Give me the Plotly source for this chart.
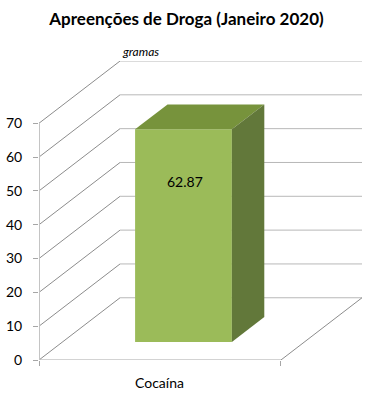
import plotly.graph_objects as go

# ---- data ----
title = "Apreenções de Droga (Janeiro 2020)"
categories = ["Cocaína"]
values = [62.87]
y_ticks = [0, 10, 20, 30, 40, 50, 60, 70]
y_unit = "gramas"

# ---- pseudo-3D projection settings (style) ----
DX = 0.335   # depth offset in x-axis units
DY = 18.4    # depth offset in y-axis units
T0, T1 = 0.29, 0.69  # bar front/back depth fractions
BAR_W = 0.4
FONT = "Lato"

ymax = y_ticks[-1]
n = len(categories)


def P(x, v, t):
    return (x + t * DX, v + t * DY)


def seg(a, b, color, width=1):
    return dict(type="line", xref="x", yref="y", x0=a[0], y0=a[1], x1=b[0], y1=b[1],
                line=dict(color=color, width=width), layer="above")


def poly(pts, color):
    d = "M " + " L ".join(f"{x},{y}" for x, y in pts) + " Z"
    return dict(type="path", xref="x", yref="y", path=d, fillcolor=color,
                line=dict(width=0), layer="above")


grid_col = "#b8b8b8"
diag_col = "#8c8c8c"
shapes = []
for v in y_ticks:
    shapes.append(seg(P(0, v, 0), P(0, v, 1), diag_col))
    shapes.append(seg(P(0, v, 1), P(n, v, 1), grid_col))
# floor edges
shapes.append(seg(P(n, 0, 0), P(n, 0, 1), diag_col))
shapes.append(seg(P(0, 0, 0), P(n, 0, 0), "#a6a6a6"))
# vertical axis line
shapes.append(seg(P(0, 0, 0), P(0, ymax, 0), "#c4c4c4", 2))

annotations = []
for i, (cat, val) in enumerate(zip(categories, values)):
    xc = i + 0.5
    xl, xr = xc - BAR_W / 2, xc + BAR_W / 2
    shapes.append(poly([P(xl, 0, T0), P(xr, 0, T0), P(xr, val, T0), P(xl, val, T0)], "#9bbb59"))
    shapes.append(poly([P(xl, val, T0), P(xr, val, T0), P(xr, val, T1), P(xl, val, T1)], "#77933c"))
    shapes.append(poly([P(xr, 0, T0), P(xr, 0, T1), P(xr, val, T1), P(xr, val, T0)], "#62783a"))
    lx, ly = P(xc, val, T0)
    annotations.append(dict(x=lx, y=ly, xref="x", yref="y", text=f"{val:.2f}", showarrow=False,
                            yshift=-52, xshift=2,
                            font=dict(family=FONT, size=14, color="#000000")))
    annotations.append(dict(x=xc, y=0, xref="x", yref="y", text=cat, showarrow=False,
                            yanchor="top", yshift=-12,
                            font=dict(family=FONT, size=14, color="#000000")))

ux, uy = P(0, ymax, 1)
annotations.append(dict(x=ux, y=uy, xref="x", yref="y", text=f"<i>{y_unit}</i>", showarrow=False,
                        xanchor="left", yanchor="bottom", yshift=0,
                        font=dict(family=FONT, size=12, color="#000000")))

fig = go.Figure(go.Scatter(x=[0], y=[0], mode="markers", marker=dict(opacity=0),
                           hoverinfo="skip", showlegend=False))

fig.update_layout(
    width=378, height=409,
    paper_bgcolor="white", plot_bgcolor="white",
    margin=dict(l=39, r=16, t=61, b=49, autoexpand=False),
    title=dict(text=f"<b>{title}</b>", x=186.5 / 378, xref="container", xanchor="center",
               y=1 - 19 / 409, yref="container", yanchor="middle",
               font=dict(family=FONT, size=17, color="#000000"), automargin=False),
    xaxis=dict(range=[0, n + DX], showgrid=False, zeroline=False, showline=False,
               tickvals=[0, n], ticks="outside", ticklen=5, tickcolor="#a6a6a6",
               showticklabels=False, fixedrange=True, automargin=False),
    yaxis=dict(range=[0, ymax + DY], showgrid=False, zeroline=False, showline=False,
               tickvals=y_ticks, ticks="outside", ticklen=5, tickcolor="#a6a6a6",
               ticklabelstandoff=8, automargin=False,
               tickfont=dict(family=FONT, size=14, color="#000000"), fixedrange=True),
    shapes=shapes,
    annotations=annotations,
    showlegend=False,
)

# remove the default page margin so the figure sits at the window's top-left corner
fig.write_html("out.html", config={"displayModeBar": False},
               post_script="document.body.style.margin='0';")
